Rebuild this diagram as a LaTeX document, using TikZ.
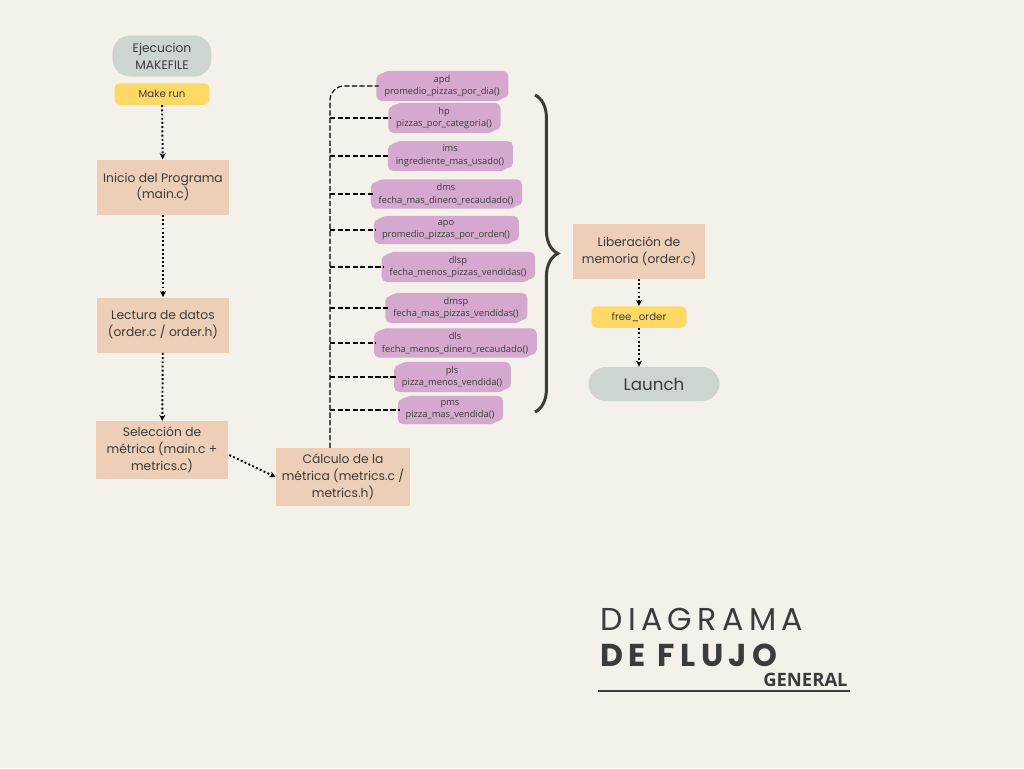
\documentclass[tikz,border=0pt]{standalone}
\usepackage{fontspec}
\setmainfont{Poppins}
\newfontfamily\etiqueta{Open Sans}
\newfontfamily\titulo[LetterSpace=17]{Poppins}
\usetikzlibrary{arrows.meta,calc,decorations.pathreplacing}
\definecolor{fondo}{HTML}{F4F0EA}
\definecolor{verde}{HTML}{CDD6CE}
\definecolor{amarillo}{HTML}{FFD966}
\definecolor{durazno}{HTML}{EDCFB8}
\definecolor{rosa}{HTML}{D4A8CF}
\definecolor{oliva}{HTML}{3A3E30}
\definecolor{texto}{HTML}{3B3B3B}
\tikzstyle{every node}=[text=texto]
\tikzstyle{caja}=[fill=durazno,minimum width=2.64cm,minimum height=1.1cm,align=center,font=\fontsize{7}{9.6}\selectfont]
\tikzstyle{pildora}=[fill=verde,rounded corners=10pt,align=center]
\tikzstyle{nota}=[fill=amarillo,rounded corners=3pt,minimum width=1.9cm,minimum height=0.43cm,font=\fontsize{5.8}{7}\selectfont]
\tikzstyle{funcion}=[fill=rosa,rounded corners=3pt,align=center,inner xsep=3pt,inner ysep=1.5pt,
  preaction={fill=rosa,transform canvas={xshift=2pt,yshift=0.8pt}},
  preaction={fill=rosa,transform canvas={xshift=-1.5pt,yshift=-0.8pt}},
  font=\etiqueta\fontsize{5.3}{7.2}\selectfont]
\tikzstyle{flecha}=[-{Stealth[length=3.5pt,width=3.5pt]},line width=1.1pt,dash pattern=on 1.1pt off 1.3pt]
\tikzstyle{rama}=[dash pattern=on 3pt off 1.3pt,line width=0.65pt]
\tikzstyle{llave}=[oliva,line width=1.7pt,decorate,decoration={brace,amplitude=13pt}]

\begin{document}
\begin{tikzpicture}[x=0.02cm,y=-0.02cm]
  \fill[fondo] (0,0) rectangle (1024,768);
  \node [pildora,minimum width=1.98cm,minimum height=0.82cm,font=\fontsize{7}{9.6}\selectfont] (make) at (162,56) {Ejecucion\\MAKEFILE};
  \node [nota] (makerun) at (162,94) {Make run};
  \node [caja] (inicio) at (163,187) {Inicio del Programa\\(main.c)};
  \node [caja] (lectura) at (163,325) {Lectura de datos\\(order.c / order.h)};
  \node [caja] (seleccion) at (162,450) {Selección de\\métrica (main.c +\\metrics.c)};
  \node [caja] (calculo) at (343,477) {Cálculo de la\\métrica (metrics.c /\\metrics.h)};
  \draw [flecha] (makerun) -- (inicio);
  \draw [flecha] (inicio) -- (lectura);
  \draw [flecha] (lectura) -- (seleccion);
  \draw [flecha] ($(seleccion.east)+(1,5)$) -- (calculo.west);

  \node [funcion] (apd) at (442,86) {apd\\promedio\_pizzas\_por\_dia()};
  \node [funcion] (hp) at (444,118) {hp\\pizzas\_por\_categoria()};
  \node [funcion] (ims) at (450,156) {ims\\ingrediente\_mas\_usado()};
  \node [funcion] (dms) at (446,194) {dms\\fecha\_mas\_dinero\_recaudado()};
  \node [funcion] (apo) at (446,230) {apo\\promedio\_pizzas\_por\_orden()};
  \node [funcion] (dlsp) at (458,267) {dlsp\\fecha\_menos\_pizzas\_vendidas()};
  \node [funcion] (dmsp) at (456,308) {dmsp\\fecha\_mas\_pizzas\_vendidas()};
  \node [funcion] (dls) at (455,343) {dls\\fecha\_menos\_dinero\_recaudado()};
  \node [funcion] (pls) at (452,377) {pls\\pizza\_menos\_vendida()};
  \node [funcion] (pms) at (450,410) {pms\\pizza\_mas\_vendida()};
  \coordinate (tronco) at ($(calculo.north)+(-13,0)$);
  \draw [rama,rounded corners=8pt] (tronco) |- (apd.west);
  \foreach \f in {hp,ims,dms,apo,dlsp,dmsp,dls,pls,pms}
    \draw [rama] (tronco |- \f.west) -- (\f.west);
  \draw [llave] (535,95) -- (535,412);

  \node [caja] (liberacion) at (639,251) {Liberación de\\memoria (order.c)};
  \node [nota] (freeorder) at (639,317) {free\_order};
  \node [pildora,minimum width=2.62cm,minimum height=0.68cm,font=\fontsize{9.5}{11}\selectfont] (launch) at (654,384) {Launch};
  \draw [flecha] (liberacion) -- (freeorder);
  \draw [flecha] (freeorder.south -| liberacion) -- (launch.north -| liberacion);

  \node [anchor=base west,inner sep=0,font=\titulo\fontsize{18}{18}\selectfont] (diagrama) at (600,630) {DIAGRAMA};
  \node [anchor=base west,inner sep=0,font=\titulo\bfseries\fontsize{18}{18}\selectfont] (flujo) at (600,666) {DE FLUJO};
  \node [anchor=base east,inner sep=0,font=\etiqueta\bfseries\fontsize{10.5}{10.5}\selectfont] (general) at (848,686) {GENERAL};
  \draw [texto,line width=1pt] (598,691) -- (850,691);
\end{tikzpicture}
\end{document}
